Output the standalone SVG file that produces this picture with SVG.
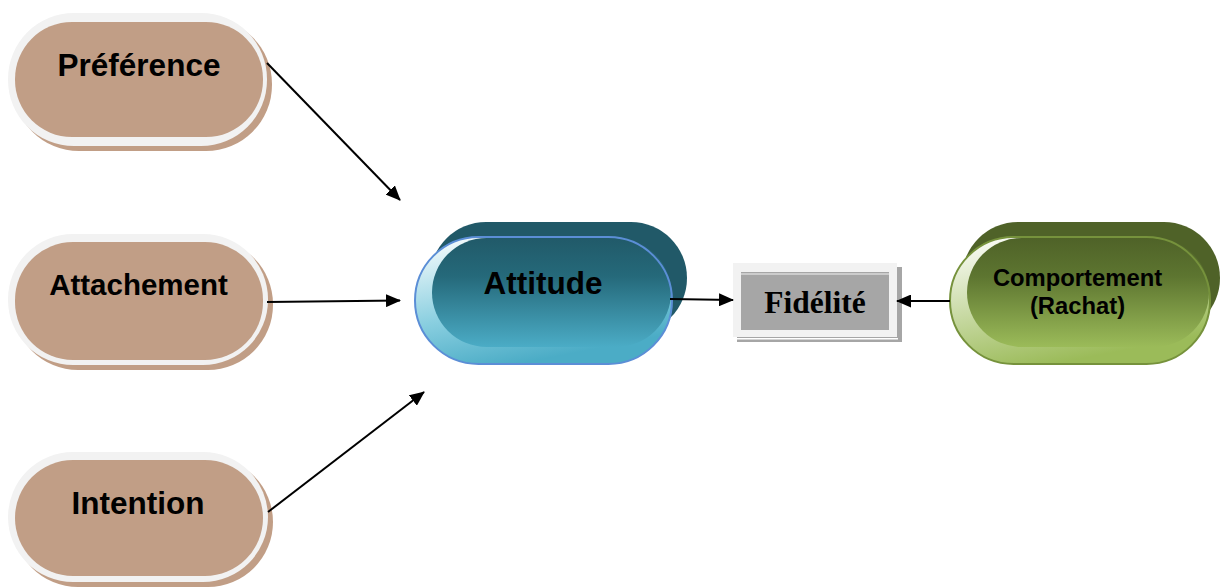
<svg xmlns="http://www.w3.org/2000/svg" width="1220" height="588" viewBox="0 0 1220 588">
<defs>
<style>
.brown{fill:#C19E86}
.ring{fill:#F2F2F2}
.lbl{font-family:"Liberation Sans",Arial,sans-serif;font-weight:bold;fill:#000;text-anchor:middle}
.conn{stroke:#000;stroke-width:2;fill:none}
</style>
<marker id="ah" viewBox="0 0 15 13" refX="14" refY="6.5" markerWidth="15" markerHeight="13" markerUnits="userSpaceOnUse" orient="auto">
<path d="M0,0 L15,6.5 L0,13 Z" fill="#000"/>
</marker>
<linearGradient id="tealLight" x1="0" y1="0" x2="0.4" y2="1">
<stop offset="0" stop-color="#FFFFFF"/>
<stop offset="0.6" stop-color="#8ACFE0"/>
<stop offset="1" stop-color="#4BACC6"/>
</linearGradient>
<linearGradient id="tealDark" x1="0" y1="0" x2="0" y2="1">
<stop offset="0" stop-color="#215A69"/>
<stop offset="0.35" stop-color="#25697A"/>
<stop offset="1" stop-color="#4BACC6"/>
</linearGradient>
<linearGradient id="greenLight" x1="0" y1="0" x2="0.4" y2="1">
<stop offset="0" stop-color="#FFFFFF"/>
<stop offset="0.6" stop-color="#C3D69B"/>
<stop offset="1" stop-color="#9BBB59"/>
</linearGradient>
<linearGradient id="greenDark" x1="0" y1="0" x2="0" y2="1">
<stop offset="0" stop-color="#4F6228"/>
<stop offset="0.35" stop-color="#5D7530"/>
<stop offset="1" stop-color="#9BBB59"/>
</linearGradient>
</defs>

<g id="preference">
<rect class="brown" x="13" y="18" width="259" height="133" rx="66"/>
<rect class="ring" x="8" y="13" width="259" height="133" rx="66"/>
<rect class="brown" x="15" y="22" width="248" height="115" rx="57"/>
<text class="lbl" x="139" y="76" font-size="31.5">Préférence</text>
</g>

<g id="attachement">
<rect class="brown" x="13" y="239" width="260" height="131" rx="65"/>
<rect class="ring" x="8" y="234" width="260" height="131" rx="65"/>
<rect class="brown" x="15" y="242" width="248" height="118" rx="58"/>
<text class="lbl" x="138.5" y="295" font-size="29.5">Attachement</text>
</g>

<g id="intention">
<rect class="brown" x="13" y="457" width="260" height="130" rx="65"/>
<rect class="ring" x="8" y="452" width="260" height="130" rx="65"/>
<rect class="brown" x="15" y="460" width="248" height="116" rx="58"/>
<text class="lbl" x="138" y="514" font-size="31.5">Intention</text>
</g>

<g id="attitude">
<rect x="430" y="222" width="257" height="112" rx="56" fill="#215968"/>
<rect x="415" y="237" width="257" height="127" rx="63.5" fill="url(#tealLight)"/>
<rect x="432" y="238" width="239" height="109" rx="54.5" fill="url(#tealDark)"/>
<rect x="415" y="237" width="257" height="127" rx="63.5" fill="none" stroke="#5B8ED6" stroke-width="2"/>
<text class="lbl" x="543" y="294" font-size="31.5">Attitude</text>
</g>

<g id="fidelite">
<rect x="737" y="267" width="165" height="75" fill="#A6A6A6"/>
<rect x="737" y="338" width="161" height="1.5" fill="#FFFFFF"/>
<rect x="733" y="263" width="164" height="74" fill="#F2F2F2"/>
<rect x="741" y="272" width="148" height="58" fill="#A6A6A6"/>
<rect x="741" y="273.5" width="148" height="1" fill="#F2F2F2"/>
<text x="815" y="313" font-family="'Liberation Serif','Times New Roman',serif" font-weight="bold" font-size="31.5" text-anchor="middle" fill="#000">Fidélité</text>
</g>

<g id="comportement">
<rect x="962" y="222" width="258" height="112" rx="56" fill="#4F6228"/>
<rect x="950" y="237" width="260" height="127" rx="63.5" fill="url(#greenLight)"/>
<rect x="967" y="238" width="242" height="109" rx="54.5" fill="url(#greenDark)"/>
<rect x="950" y="237" width="260" height="127" rx="63.5" fill="none" stroke="#76923C" stroke-width="2"/>
<text class="lbl" x="1077.5" y="286" font-size="23.8">Comportement</text>
<text class="lbl" x="1077.5" y="314" font-size="23.8">(Rachat)</text>
</g>

<g id="connectors">
<line class="conn" x1="267" y1="63" x2="400" y2="200" marker-end="url(#ah)"/>
<line class="conn" x1="267" y1="302" x2="400" y2="300.5" marker-end="url(#ah)"/>
<line class="conn" x1="268" y1="512" x2="424" y2="392" marker-end="url(#ah)"/>
<line class="conn" x1="670" y1="299" x2="733" y2="300" marker-end="url(#ah)"/>
<line class="conn" x1="950" y1="301" x2="897" y2="301" marker-end="url(#ah)"/>
</g>
</svg>
